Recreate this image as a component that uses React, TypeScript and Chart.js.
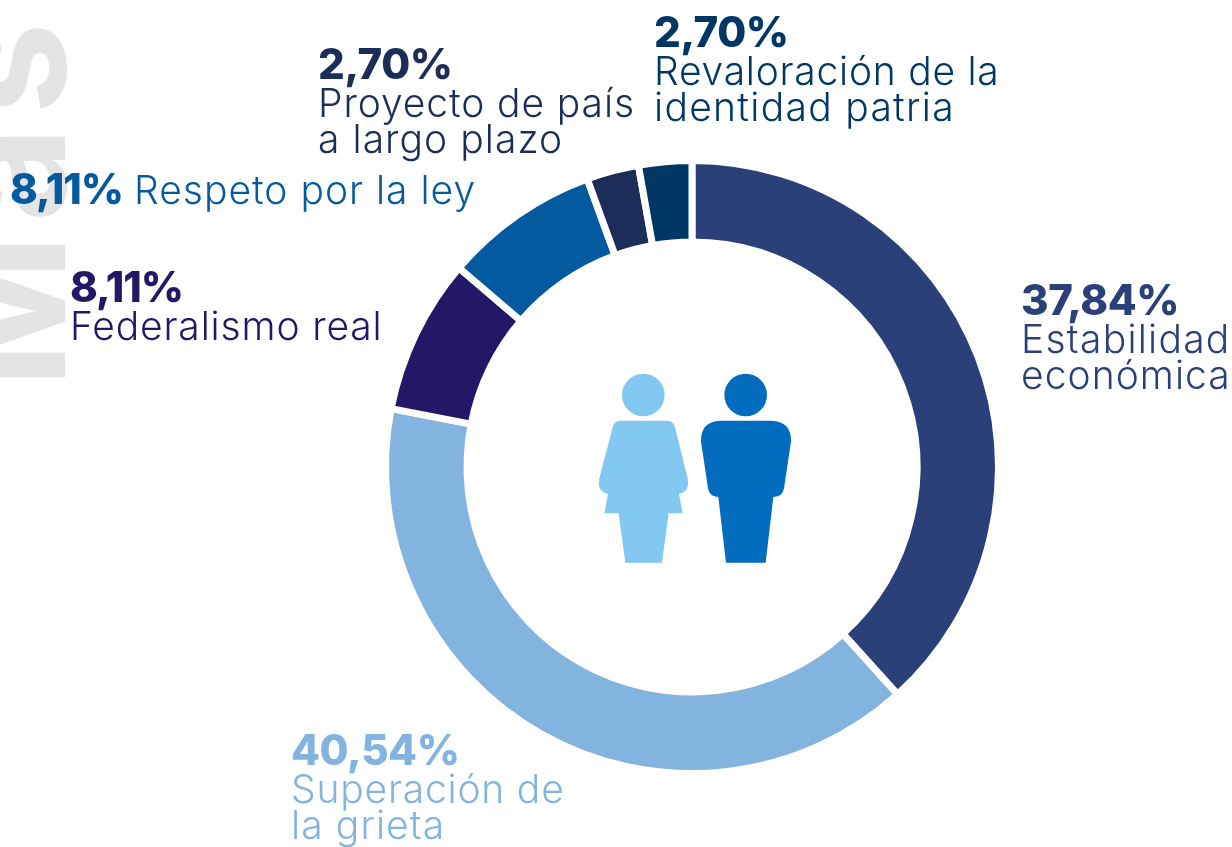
import React, { useEffect, useRef } from "react";
import { Chart, registerables } from "chart.js";

Chart.register(...registerables);

const categories = [
  "Estabilidad económica",
  "Superación de la grieta",
  "Federalismo real",
  "Respeto por la ley",
  "Proyecto de país a largo plazo",
  "Revaloración de la identidad patria",
];
const percentages = [37.84, 40.54, 8.11, 8.11, 2.7, 2.7];
const sliceSizes = [38.3, 39.75, 8.2, 8.2, 2.75, 2.8];
const sliceColors = ["#2B3F78", "#82B4DF", "#231866", "#045A9F", "#1B2D58", "#003764"];
const labelLines = [
  ["Estabilidad", "económica"],
  ["Superación de", "la grieta"],
  ["Federalismo real"],
  [],
  ["Proyecto de país", "a largo plazo"],
  ["Revaloración de la", "identidad patria"],
];
const lineTracking: Record<string, number> = {
  Estabilidad: 1.25,
  económica: 1.05,
  "identidad patria": 1.3,
  "la grieta": 1.1,
  "a largo plazo": 1.05,
  "Proyecto de país": 0.9,
  "Federalismo real": 0.85,
  "Superación de": 0.8,
  "Revaloración de la": 0.75,
  "Respeto por la ley": 1.0,
};
const labelPos = [
  { x: 1021, y: 315 },
  { x: 291, y: 765 },
  { x: 70, y: 302 },
  { x: 10, y: 204 },
  { x: 318, y: 79 },
  { x: 654, y: 47 },
];
const FONT = "Inter, 'Noto Sans', sans-serif";
const fmt = (v: number) => v.toFixed(2).replace(".", ",") + "%";

const T = (p: { x: number; y: number; size: number; weight: number; color: string; text: string; ls?: number }) => (
  <div
    style={{
      position: "absolute",
      left: p.x,
      top: p.y - 25 - p.size * 0.364,
      height: 50,
      lineHeight: "50px",
      whiteSpace: "nowrap",
      fontFamily: FONT,
      fontSize: p.size,
      fontWeight: p.weight,
      color: p.color,
      letterSpacing: p.ls ?? 0,
    }}
  >
    {p.text}
  </div>
);

export default function App() {
  const ref = useRef<HTMLCanvasElement>(null);
  useEffect(() => {
    const chart = new Chart(ref.current!, {
      type: "doughnut",
      data: {
        labels: categories,
        datasets: [{ data: sliceSizes, backgroundColor: sliceColors, borderColor: "#ffffff", borderWidth: 7 }],
      },
      options: {
        responsive: false,
        animation: false,
        cutout: "73.4%",
        layout: { padding: { left: 382, right: 230, top: 157, bottom: 70 } },
        plugins: { legend: { display: false }, tooltip: { enabled: false } },
      },
    });
    return () => chart.destroy();
  }, []);

  const BOLD = { size: 42, weight: 800 };
  const REG = { size: 39, weight: 300 };

  return (
    <div style={{ position: "fixed", left: 0, top: 0, width: 1232, height: 847, overflow: "hidden", background: "#fff" }}>
      <div
        style={{
          position: "absolute",
          left: 5,
          top: 388,
          transformOrigin: "0 0",
          transform: "rotate(-90deg)",
          fontFamily: FONT,
          fontWeight: 700,
          fontSize: 165,
          letterSpacing: 12,
          lineHeight: 0,
          color: "#E4E4E4",
          whiteSpace: "nowrap",
        }}
      >
        Más
      </div>
      <canvas ref={ref} width={1232} height={847} style={{ position: "absolute", left: 0, top: 0, width: 1232, height: 847 }} />
      {categories.map((c, i) => {
        const pos = labelPos[i];
        return (
          <React.Fragment key={c}>
            <T
              x={pos.x}
              y={pos.y}
              {...BOLD}
              ls={percentages[i] === 8.11 ? -1.1 : -0.4}
              color={sliceColors[i]}
              text={fmt(percentages[i])}
            />
            {i === 3 ? (
              <T x={134} y={pos.y} {...REG} ls={lineTracking[c]} color={sliceColors[i]} text={c} />
            ) : (
              labelLines[i].map((l, j) => (
                <T key={l} x={pos.x} y={pos.y + 38 + j * 36.5} {...REG} ls={lineTracking[l]} color={sliceColors[i]} text={l} />
              ))
            )}
          </React.Fragment>
        );
      })}
      <svg width={230} height={220} viewBox="0 0 690 660" style={{ position: "absolute", left: 580, top: 360 }}>
        <circle cx={190} cy={105} r={64} fill="#82C8F0" />
        <path
          fill="#82C8F0"
          d="M120 182H262Q280 182 285 202L323 355Q330 395 297 402L308 460H266L246 608H136L116 460H73L84 402Q50 395 58 355L98 202Q103 182 120 182Z"
        />
        <circle cx={497} cy={105} r={64} fill="#026DBF" />
        <path
          fill="#026DBF"
          d="M420 182H575Q635 185 633 245L612 385Q608 410 580 411L557 608H438L415 411Q388 410 384 385L363 245Q361 185 420 182Z"
        />
      </svg>
    </div>
  );
}
